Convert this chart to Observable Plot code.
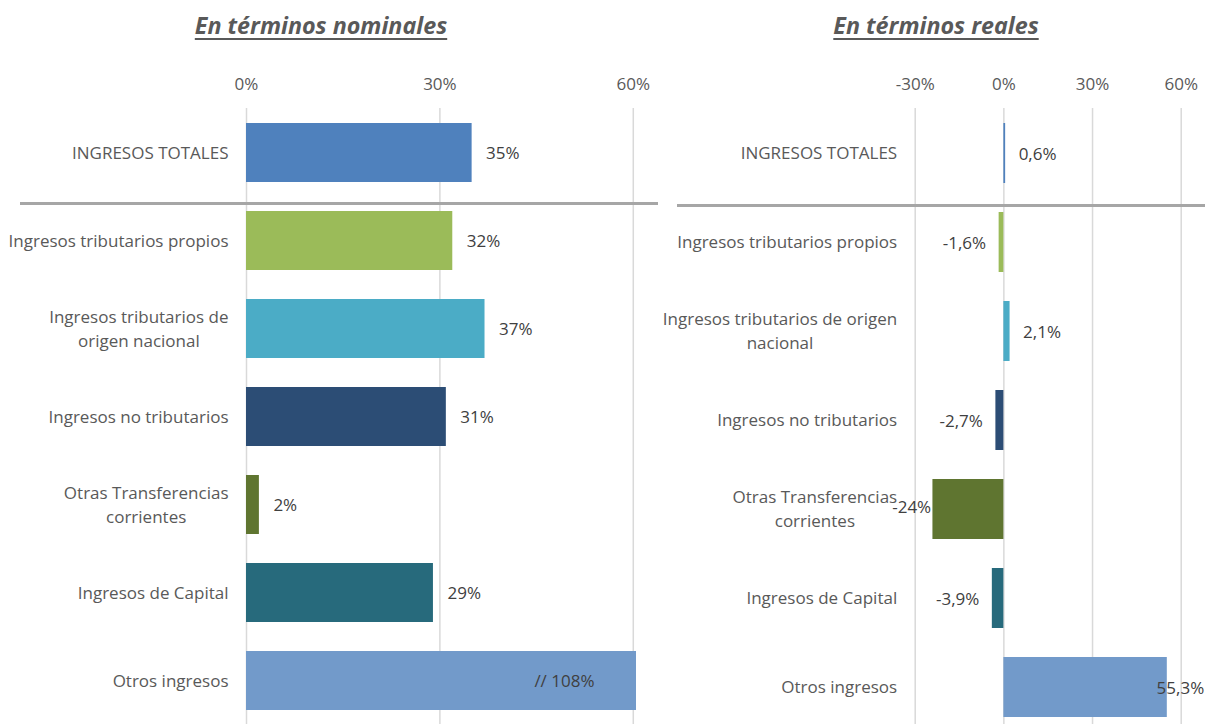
<!DOCTYPE html>
<html><head><meta charset="utf-8">
<script src="https://cdn.jsdelivr.net/npm/d3@7"></script>
<script src="https://cdn.jsdelivr.net/npm/@observablehq/plot@0.6"></script>
<style>
html,body{margin:0;padding:0;background:#fff;overflow:hidden;width:1205px;height:724px}
#wrap{position:relative;width:1205px;height:724px;overflow:hidden}
.panel{position:absolute;top:0}
.title{position:absolute;top:10px;font-family:"Open Sans",sans-serif;font-weight:700;font-style:italic;font-size:23.3px;line-height:30px;color:#595959;text-decoration:underline;text-underline-offset:4px;white-space:nowrap;transform:translateX(-50%)}
.sep{position:absolute;height:3px;background:#a6a6a6}
</style></head><body><div id="wrap"></div>
<script>
// ---- data ----
const categories = ["INGRESOS TOTALES","Ingresos tributarios propios","Ingresos tributarios de origen nacional","Ingresos no tributarios","Otras Transferencias corrientes","Ingresos de Capital","Otros ingresos"];
const leftTickLabels = ["INGRESOS TOTALES","Ingresos tributarios propios","Ingresos tributarios de\norigen nacional","Ingresos no tributarios","Otras Transferencias\ncorrientes","Ingresos de Capital","Otros ingresos"];
const rightTickLabels = ["INGRESOS TOTALES","Ingresos tributarios propios","Ingresos tributarios de origen\nnacional","Ingresos no tributarios","Otras Transferencias\ncorrientes","Ingresos de Capital","Otros ingresos"];
const nominalValues = [35, 32, 37, 31, 2, 29, 108];
const nominalLabels = ["35%","32%","37%","31%","2%","29%","108%"];
const realValues = [0.6, -1.6, 2.1, -2.7, -24, -3.9, 55.3];
const realLabels = ["0,6%","-1,6%","2,1%","-2,7%","-24%","-3,9%","55,3%"];
const barColors = ["#4f81bd","#9bbb59","#4bacc6","#2c4d75","#5f7530","#276a7c","#729aca"];
const nominalTicks = [0, 30, 60];
const realTicks = [-30, 0, 30, 60];
const titles = ["En términos nominales", "En términos reales"];

const FONT = "'Open Sans', sans-serif";
const FS = 17;
const ctx = document.createElement("canvas").getContext("2d");
ctx.font = `${FS}px ${FONT}`;

function makePanel({values, labels, tickLabels, ticks, domain, width, height, marginLeft, marginRight, padIn, padOut, pad}) {
  const rows = categories.map((c, i) => ({cat: c, value: values[i], label: labels[i], color: barColors[i]}));
  const range = [marginLeft, width - marginRight];
  const sx = d3.scaleLinear(domain, range);
  const g = {pos: [], neg: [], clampL: [], clampR: [], inside: []};
  for (const r of rows) {
    const w = ctx.measureText(r.label).width;
    if (r.value > domain[1]) g.inside.push(r);
    else if (r.value >= 0) { (sx(r.value) + pad + w > range[1] + 23 ? g.clampR : g.pos).push(r); }
    else { (sx(r.value) - pad - w < range[0] - 23 ? g.clampL : g.neg).push(r); }
  }
  const tl = new Map(categories.map((c, i) => [c, tickLabels[i]]));
  const txt = {y: "cat", fill: "#404040", fontSize: FS, dy: 1};
  return Plot.plot({
    width, height, marginTop: 108, marginBottom: 0, marginLeft, marginRight,
    style: {fontFamily: FONT, fontSize: FS + "px", color: "#595959", background: "transparent"},
    x: {domain, label: null},
    y: {domain: categories, paddingInner: padIn, paddingOuter: padOut, label: null},
    color: {type: "identity"},
    marks: [
      Plot.gridX(ticks, {stroke: "#d9d9d9", strokeOpacity: 1, strokeWidth: 1.5}),
      Plot.barX(rows, {x: "value", y: "cat", fill: "color", clip: true}),
      Plot.axisX(ticks, {anchor: "top", tickSize: 0, tickPadding: 19, tickFormat: d => d + "%", fontSize: FS, label: null}),
      Plot.axisY({tickSize: 0, tickPadding: 18, tickFormat: c => tl.get(c), fontSize: FS, lineHeight: 1.4, dy: -2, label: null}),
      Plot.text(g.pos, {...txt, x: "value", text: "label", textAnchor: "start", dx: pad}),
      Plot.text(g.neg, {...txt, x: "value", text: "label", textAnchor: "end", dx: -pad}),
      Plot.text(g.clampL, {...txt, x: () => domain[0], text: "label", textAnchor: "start", dx: -23, dy: -2}),
      Plot.text(g.clampR, {...txt, x: () => domain[1], text: "label", textAnchor: "end", dx: 23}),
      Plot.text(g.inside, {...txt, x: () => domain[1], text: d => "// " + d.label, textAnchor: "end", dx: -42})
    ]
  });
}

const wrap = document.getElementById("wrap");
const left = makePanel({values: nominalValues, labels: nominalLabels, tickLabels: leftTickLabels, ticks: nominalTicks,
  domain: [0, 60.5], width: 660, height: 724, marginLeft: 246, marginRight: 24, padIn: 0.33, padOut: 0.165, pad: 14});
const right = makePanel({values: realValues, labels: realLabels, tickLabels: rightTickLabels, ticks: realTicks,
  domain: [-30, 60], width: 545, height: 731, marginLeft: 254.7, marginRight: 24.3, padIn: 0.326, padOut: 0.163, pad: 13});
left.classList.add("panel"); left.style.left = "0px";
right.classList.add("panel"); right.style.left = "660px";
wrap.append(left, right);

// separators
[[20, 638, 202], [677, 528, 204]].forEach(([l, w, t]) => {
  const d = document.createElement("div"); d.className = "sep";
  d.style.left = l + "px"; d.style.width = w + "px"; d.style.top = t + "px"; wrap.append(d);
});
// titles
[[321, titles[0]], [936, titles[1]]].forEach(([cx, t]) => {
  const d = document.createElement("div"); d.className = "title"; d.textContent = t; d.style.left = cx + "px"; wrap.append(d);
});

// center multi-line category labels (as in the original)
for (const svg of [left, right]) {
  svg.querySelectorAll("text").forEach(t => {
    const sp = t.querySelectorAll("tspan");
    if (sp.length > 1 && t.closest("[aria-label='y-axis tick label']")) {
      const ws = [...sp].map(s => s.getComputedTextLength());
      const m = Math.max(...ws);
      t.setAttribute("text-anchor", "middle");
      sp.forEach(s => s.setAttribute("x", -m / 2));
    }
  });
}
</script></body></html>
